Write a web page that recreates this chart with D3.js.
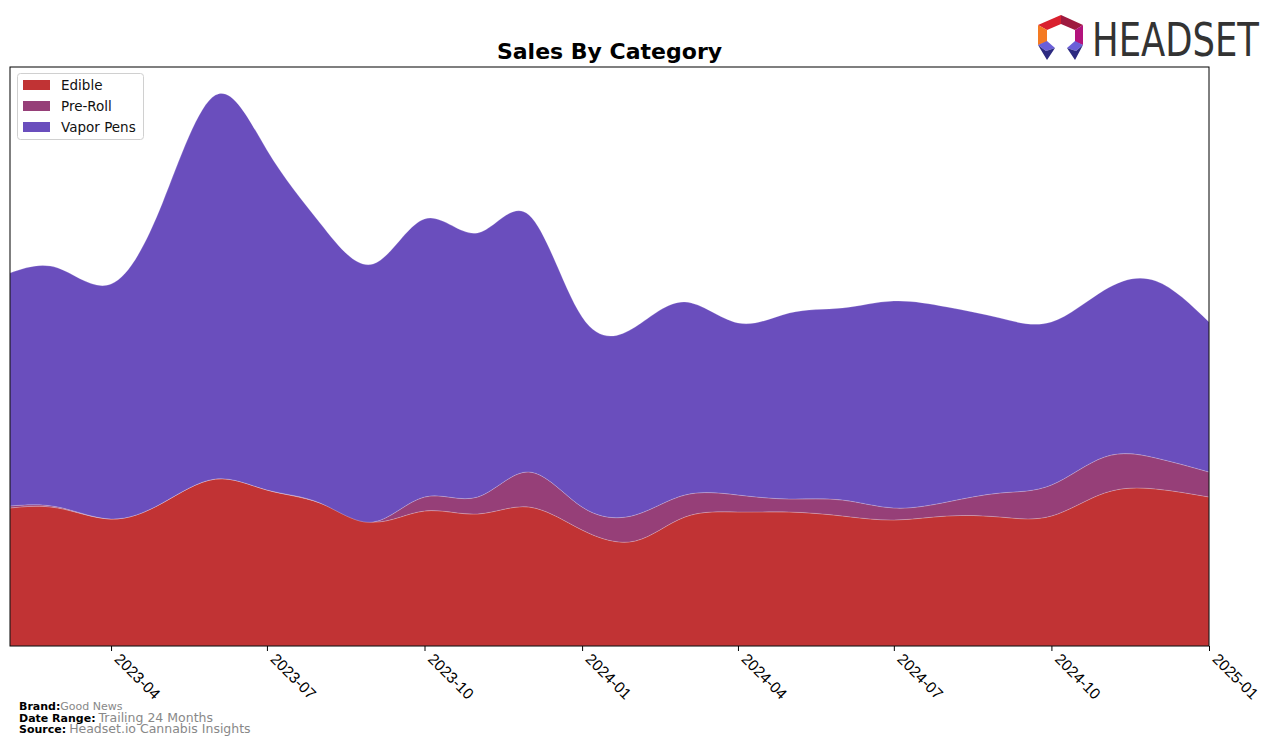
<!DOCTYPE html>
<html>
<head>
<meta charset="utf-8">
<script src="https://cdn.jsdelivr.net/npm/d3@7"></script>
<style>
  html, body { margin: 0; padding: 0; background: #fff; }
  svg { display: block; font-family: "DejaVu Sans", sans-serif; }
</style>
</head>
<body>
<svg id="chart" width="1276" height="746"></svg>
<script>
// ---- data (arbitrary sales units) ----
const months = ["2023-02","2023-03","2023-04","2023-05","2023-06","2023-07","2023-08","2023-09",
  "2023-10","2023-11","2023-12","2024-01","2024-02","2024-03","2024-04","2024-05","2024-06",
  "2024-07","2024-08","2024-09","2024-10","2024-11","2024-12","2025-01"];
const categories = ["Edible", "Pre-Roll", "Vapor Pens"];
const edible   = [138,138,127,143,167,156,143,124,135,132,139,116,105,129,134,134,130,126,130,129,130,153,157,149];
const preRoll  = [2,1,0,0,0,0,0,0,14,17,35,23,26,22,17,13,16,12,14,24,31,36,31,25];
const vaporPens= [233,239,235,300,384,340,280,258,278,264,257,190,188,193,172,186,192,207,195,175,163,167,177,150];
const tickLabels = ["2023-04","2023-07","2023-10","2024-01","2024-04","2024-07","2024-10","2025-01"];
const yMax = 579;
const colors = ["#c13334", "#963f78", "#6a4ebd"];

const svg = d3.select("#chart");
const m = {left: 10, right: 1209, top: 67, bottom: 646};
const parse = d3.utcParse("%Y-%m");

const rows = months.map((mo, i) => ({
  date: parse(mo), "Edible": edible[i], "Pre-Roll": preRoll[i], "Vapor Pens": vaporPens[i]
}));

const x = d3.scaleUtc()
  .domain([parse(months[0]), parse(months[months.length - 1])])
  .range([m.left, m.right]);
const y = d3.scaleLinear().domain([0, yMax]).range([m.bottom, m.top]);

const stacked = d3.stack().keys(categories)(rows);

const area = d3.area()
  .curve(d3.curveNatural)
  .x(d => x(d.data.date))
  .y0(d => y(d[0]))
  .y1(d => y(d[1]));

svg.append("defs").append("clipPath").attr("id", "plotclip")
  .append("rect").attr("x", m.left).attr("y", m.top)
  .attr("width", m.right - m.left).attr("height", m.bottom - m.top);

const g = svg.append("g").attr("clip-path", "url(#plotclip)");
g.selectAll("path.layer").data(stacked).join("path")
  .attr("class", "layer")
  .attr("d", area)
  .attr("fill", (d, i) => colors[i])
  .attr("stroke", "rgba(255,255,255,0.28)")
  .attr("stroke-width", 0.7);

// frame
svg.append("rect").attr("x", m.left).attr("y", m.top)
  .attr("width", m.right - m.left).attr("height", m.bottom - m.top)
  .attr("fill", "none").attr("stroke", "#000").attr("stroke-width", 1);

// x axis
const xAxis = d3.axisBottom(x)
  .tickValues(tickLabels.map(parse))
  .tickFormat(d3.utcFormat("%Y-%m"))
  .tickSize(5).tickSizeOuter(0);
const ax = svg.append("g").attr("transform", `translate(0,${m.bottom})`).call(xAxis);
ax.select(".domain").remove();
ax.selectAll(".tick line").attr("stroke", "#000");
ax.selectAll(".tick text")
  .style("font-size", "15.5px").attr("fill", "#000")
  .attr("text-anchor", "start")
  .attr("dy", null).attr("y", null)
  .attr("transform", "translate(2,14) rotate(45)");

// title
svg.append("text").attr("x", (m.left + m.right) / 2).attr("y", 59)
  .attr("text-anchor", "middle").attr("font-size", 22).attr("font-weight", "bold")
  .text("Sales By Category");

// legend
const lg = svg.append("g");
lg.append("rect").attr("x", 17.5).attr("y", 73.5).attr("width", 126).attr("height", 66)
  .attr("rx", 3).attr("fill", "#fff").attr("fill-opacity", 0.85)
  .attr("stroke", "#d0d0d0").attr("stroke-width", 1);
categories.forEach((c, i) => {
  const cy = 85 + i * 21;
  lg.append("rect").attr("x", 23).attr("y", cy - 5).attr("width", 27).attr("height", 10)
    .attr("fill", colors[i]);
  lg.append("text").attr("x", 61).attr("y", cy + 5).attr("font-size", 13.5).attr("fill", "#111")
    .text(c);
});

// footer
const foot = [
  {label: "Brand:", value: "Good News", y: 710, vs: 11},
  {label: "Date Range:", value: "Trailing 24 Months", y: 721.5, vs: 12.5},
  {label: "Source:", value: "Headset.io Cannabis Insights", y: 733, vs: 12.5}
];
foot.forEach(f => {
  const t = svg.append("text").attr("x", 19).attr("y", f.y).attr("font-size", 11);
  t.append("tspan").attr("font-weight", "bold").attr("fill", "#000").text(f.label);
  t.append("tspan").attr("fill", "#888").attr("font-size", f.vs).attr("dx", f.label === "Brand:" ? 0 : 3).text(f.value);
});

// logo
const logo = svg.append("g");
const polys = [
  {c: "#d9202e", p: [[1038,25],[1061,15],[1061,24],[1047,30]]},
  {c: "#9e1a3f", p: [[1061,15],[1083,25],[1075,30],[1061,24]]},
  {c: "#f47a22", p: [[1038,25],[1047,30],[1047,42],[1038,45]]},
  {c: "#b3137c", p: [[1083,25],[1083,45],[1075,42],[1075,30]]},
  {c: "#6a5fd8", p: [[1038,45],[1047,41],[1055,48],[1046,51]]},
  {c: "#2c2a80", p: [[1038,45],[1046,51],[1055,48],[1047,60]]},
  {c: "#6a5fd8", p: [[1083,45],[1075,41],[1067,48],[1076,51]]},
  {c: "#2c2a80", p: [[1083,45],[1076,51],[1067,48],[1075,60]]}
];
polys.forEach(q => logo.append("polygon").attr("points", q.p.map(d => d.join(",")).join(" ")).attr("fill", q.c));
logo.append("text").attr("transform", "translate(1092,56) scale(1,1.18)").attr("font-size", 39)
  .attr("font-family", "'DejaVu Sans Condensed', 'DejaVu Sans', sans-serif")
  .attr("fill", "#333").attr("textLength", 167).attr("lengthAdjust", "spacingAndGlyphs")
  .text("HEADSET");
</script>
</body>
</html>
